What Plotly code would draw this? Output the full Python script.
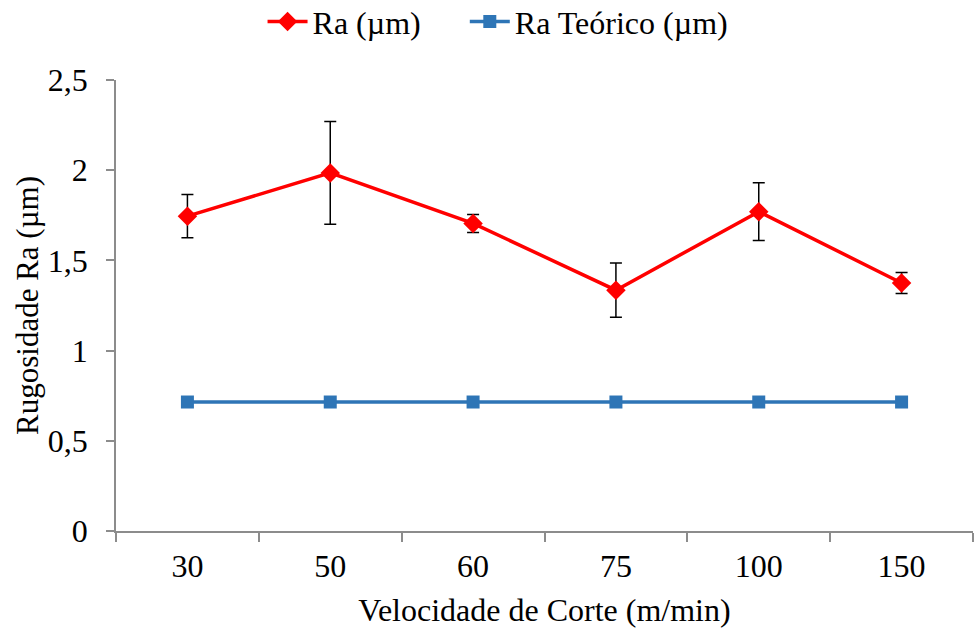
import plotly.graph_objects as go

categories = ["30", "50", "60", "75", "100", "150"]
ra = [1.745, 1.985, 1.705, 1.335, 1.77, 1.375]
ra_err = [0.12, 0.285, 0.05, 0.15, 0.16, 0.058]
ra_teorico = [0.715, 0.715, 0.715, 0.715, 0.715, 0.715]

FONT = "Liberation Serif, Times New Roman, serif"
AXIS_COLOR = "#8c8c8c"

fig = go.Figure()
fig.add_trace(go.Scatter(
    x=categories, y=ra, name="Ra (µm)", mode="lines+markers",
    line=dict(color="#ff0000", width=3.5),
    marker=dict(symbol="diamond", size=15, color="#ff0000"),
    error_y=dict(type="data", array=ra_err, visible=True, color="black",
                 thickness=1.5, width=6),
    legend="legend",
))
fig.add_trace(go.Scatter(
    x=categories, y=ra_teorico, name="Ra Teórico (µm)", mode="lines+markers",
    line=dict(color="#2e75b6", width=3.5),
    marker=dict(symbol="square", size=13, color="#2e75b6"),
    legend="legend2",
))

legend_common = dict(orientation="h", xanchor="left", y=1.129, yanchor="middle",
                     font=dict(family=FONT, size=32), itemwidth=40,
                     bgcolor="rgba(0,0,0,0)")

fig.update_layout(
    width=974, height=631,
    margin=dict(l=116, r=1, t=80, b=100, autoexpand=False),
    paper_bgcolor="white", plot_bgcolor="white",
    separators=",.",
    font=dict(family=FONT, size=32, color="black"),
    showlegend=True,
    legend=dict(x=0.171, **legend_common),
    legend2=dict(x=0.407, **legend_common),
    xaxis=dict(
        type="category", range=[-0.5, 5.5], tickson="boundaries",
        showline=True, linecolor=AXIS_COLOR, linewidth=1.5,
        ticks="outside", ticklen=9, tickcolor=AXIS_COLOR, tickwidth=1.5,
        ticklabelstandoff=6,
        showgrid=False, zeroline=False,
        title=dict(text="Velocidade de Corte (m/min)", font=dict(family=FONT, size=32), standoff=15),
        tickfont=dict(family=FONT, size=32),
    ),
    yaxis=dict(
        range=[0, 2.5], dtick=0.5, tick0=0,
        showline=True, linecolor=AXIS_COLOR, linewidth=1.5,
        ticks="outside", ticklen=8, tickcolor=AXIS_COLOR, tickwidth=1.5,
        ticklabelstandoff=12,
        showgrid=False, zeroline=False,
        title=dict(text="Rugosidade Ra (µm)", font=dict(family=FONT, size=31), standoff=0),
        tickfont=dict(family=FONT, size=32),
    ),
)

fig.write_html("out.html")
